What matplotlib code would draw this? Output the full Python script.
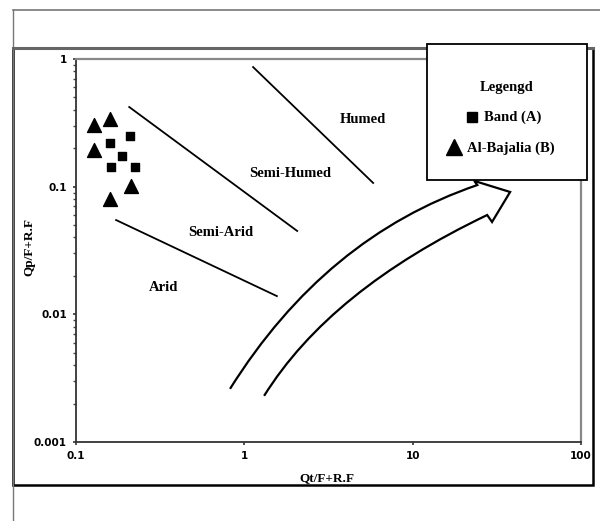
import matplotlib.pyplot as plt
from matplotlib.patches import Rectangle, PathPatch
from matplotlib.path import Path
from matplotlib.ticker import LogLocator, FixedLocator, NullFormatter
from matplotlib.lines import Line2D

# sample points (Qt/F+R.F , Qp/F+R.F)
band_x = [0.159, 0.209, 0.188, 0.162, 0.224]
band_y = [0.220, 0.249, 0.174, 0.143, 0.143]
bajalia_x = [0.128, 0.159, 0.128, 0.212, 0.159]
bajalia_y = [0.304, 0.339, 0.194, 0.101, 0.080]

# climate boundary lines
humed_line_x = [1.127, 5.82]
humed_line_y = [0.865, 0.107]
semihumed_line_x = [0.207, 2.06]
semihumed_line_y = [0.421, 0.045]
semiarid_line_x = [0.173, 1.56]
semiarid_line_y = [0.0548, 0.0139]

zone_names = ['Humed', 'Semi-Humed', 'Semi-Arid', 'Arid']
zone_x = [5.07, 1.87, 0.727, 0.329]
zone_y = [0.339, 0.126, 0.0434, 0.0161]

# big hollow arrow (data coords): lower curve, head, upper curve
arrow_x = [1.31, 3.23, 27.7, 29.6, 37.9, 23.2, 24.2, 3.02, 0.822]
arrow_y = [0.0023, 0.0155, 0.060, 0.0529, 0.0909, 0.111, 0.103, 0.0404, 0.00261]

serif = 'Liberation Serif'

fig = plt.figure(figsize=(6, 5.21), dpi=100)

# outer frame lines
fig.add_artist(Line2D([0.0217, 1.0], [0.9808, 0.9808], color='#777777', lw=1.2))
fig.add_artist(Line2D([0.0217, 0.0217], [0.0, 0.9808], color='#777777', lw=1.0))
fig.add_artist(Rectangle((0.0217, 0.0691), 0.9666, 0.8388, transform=fig.transFigure,
                         fill=False, edgecolor='black', lw=1.8))
fig.add_artist(Line2D([0.0217, 0.9883], [0.9079, 0.9079], color='#666666', lw=2.2))

ax = fig.add_axes([0.1267, 0.1516, 0.8417, 0.7351])
ax.set_xscale('log')
ax.set_yscale('log')
ax.set_xlim(0.1, 100)
ax.set_ylim(0.001, 1)

ax.scatter(band_x, band_y, marker='s', s=5.4**2, color='black', zorder=3)
ax.scatter(bajalia_x, bajalia_y, marker='^', s=10**2, color='black', zorder=3)

for lx, ly in [(humed_line_x, humed_line_y), (semihumed_line_x, semihumed_line_y),
               (semiarid_line_x, semiarid_line_y)]:
    ax.plot(lx, ly, color='black', lw=1.3)

for name, tx, ty in zip(zone_names, zone_x, zone_y):
    ax.text(tx, ty, name, ha='center', va='center', fontsize=10.5,
            fontweight='bold', family=serif)

codes = [Path.MOVETO, Path.CURVE3, Path.CURVE3, Path.LINETO, Path.LINETO,
         Path.LINETO, Path.LINETO, Path.CURVE3, Path.CURVE3]
arrow = Path(list(zip(arrow_x, arrow_y)), codes)
ax.add_patch(PathPatch(arrow, transform=ax.transData, facecolor='none',
                       edgecolor='black', lw=1.6, joinstyle='miter'))

# spines
ax.spines['top'].set_color('#888888')
ax.spines['right'].set_color('#888888')
ax.spines['top'].set_linewidth(1.6)
ax.spines['right'].set_linewidth(1.6)
ax.spines['left'].set_color('#333333')
ax.spines['bottom'].set_color('#333333')
ax.spines['left'].set_linewidth(1.3)
ax.spines['bottom'].set_linewidth(1.3)

ax.xaxis.set_major_locator(FixedLocator([0.1, 1, 10, 100]))
ax.xaxis.set_minor_locator(FixedLocator([]))
ax.set_xticklabels(['0.1', '1', '10', '100'])
ax.yaxis.set_major_locator(FixedLocator([0.001, 0.01, 0.1, 1]))
ax.set_yticklabels(['0.001', '0.01', '0.1', '1'])
ax.yaxis.set_minor_locator(LogLocator(base=10, subs=range(2, 10)))
ax.yaxis.set_minor_formatter(NullFormatter())
ax.tick_params(axis='both', which='major', length=2.5, width=1.2, color='#333333',
               labelsize=7.5, pad=4)
ax.tick_params(axis='y', which='minor', length=2, width=1.0, color='#444444')
for lab in ax.get_xticklabels() + ax.get_yticklabels():
    lab.set_fontweight('bold')

ax.set_xlabel('Qt/F+R.F', fontsize=9.5, fontweight='bold', family=serif)
ax.xaxis.set_label_coords(0.497, -0.078)
ax.set_ylabel('Qp/F+R.F', fontsize=9.5, fontweight='bold', family=serif)
ax.yaxis.set_label_coords(-0.08, 0.509)

# legend box
fig.add_artist(Rectangle((0.7117, 0.6545), 0.2666, 0.261, transform=fig.transFigure,
                         facecolor='white', edgecolor='black', lw=1.3, zorder=5))
fig.text(0.845, 0.833, 'Legengd', ha='center', va='center', fontsize=10.5,
         fontweight='bold', family=serif, zorder=6)
fig.add_artist(Line2D([0.7867], [0.775], marker='s', markersize=6.5, color='black',
                      transform=fig.transFigure, zorder=6))
fig.text(0.806, 0.775, 'Band (A)', ha='left', va='center', fontsize=10.5,
         fontweight='bold', family=serif, zorder=6)
fig.add_artist(Line2D([0.7567], [0.718], marker='^', markersize=12, color='black',
                      transform=fig.transFigure, zorder=6))
fig.text(0.778, 0.716, 'Al-Bajalia (B)', ha='left', va='center', fontsize=10.5,
         fontweight='bold', family=serif, zorder=6)

fig.savefig('out.png', dpi=100)
